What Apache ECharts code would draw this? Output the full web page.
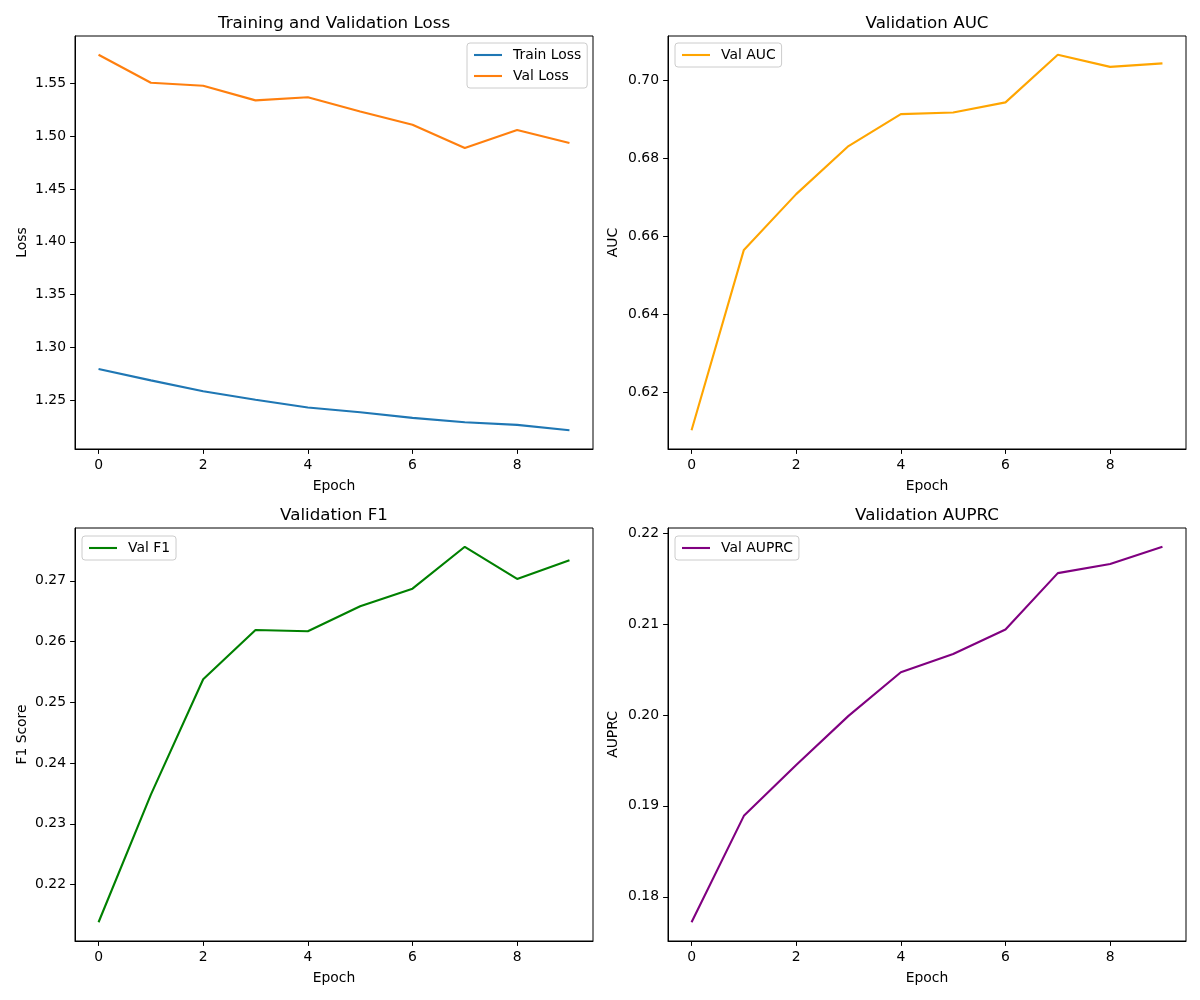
<!DOCTYPE html>
<html>
<head>
<meta charset="utf-8">
<script src="https://cdn.jsdelivr.net/npm/echarts@6/dist/echarts.min.js"></script>
<style>html,body{margin:0;padding:0;background:#fff;}#c{width:1200px;height:1000px;}</style>
</head>
<body>
<div id="c"></div>
<script>
// ---- data ----
var epochs = [0, 1, 2, 3, 4, 5, 6, 7, 8, 9];
var trainLoss = [1.2794, 1.2687, 1.2585, 1.2503, 1.2430, 1.2386, 1.2332, 1.2291, 1.2266, 1.2215];
var valLoss = [1.5771, 1.5506, 1.5478, 1.5339, 1.5368, 1.5234, 1.5109, 1.4888, 1.5058, 1.4935];
var valAUC = [0.6103, 0.6565, 0.6708, 0.6831, 0.6913, 0.6917, 0.6943, 0.7065, 0.7034, 0.7043];
var valF1 = [0.2138, 0.2348, 0.2538, 0.2619, 0.2617, 0.2658, 0.2687, 0.2756, 0.2703, 0.2734];
var valAUPRC = [0.1772, 0.1889, 0.1945, 0.1999, 0.2047, 0.2067, 0.2094, 0.2156, 0.2166, 0.2185];

var xTicks = [0, 2, 4, 6, 8];
var lossTicks = [1.25, 1.30, 1.35, 1.40, 1.45, 1.50, 1.55];
var aucTicks = [0.62, 0.64, 0.66, 0.68, 0.70];
var f1Ticks = [0.22, 0.23, 0.24, 0.25, 0.26, 0.27];
var auprcTicks = [0.18, 0.19, 0.20, 0.21, 0.22];

var titles = ['Training and Validation Loss', 'Validation AUC', 'Validation F1', 'Validation AUPRC'];
var yNames = ['Loss', 'AUC', 'F1 Score', 'AUPRC'];

function pairs(ys) { return epochs.map(function (e, i) { return [e, ys[i]]; }); }
function range(arrs) {
  var mn = Infinity, mx = -Infinity;
  arrs.forEach(function (a) { a.forEach(function (v) { if (v < mn) mn = v; if (v > mx) mx = v; }); });
  var m = (mx - mn) * 0.05;
  return [mn - m, mx + m];
}

var FONT = 'DejaVu Sans';
var grids = [
  { left: 75, top: 36, width: 518, height: 413 },
  { left: 668, top: 36, width: 518, height: 413 },
  { left: 75, top: 528, width: 518, height: 413 },
  { left: 668, top: 528, width: 518, height: 413 }
];
var yTickSets = [lossTicks, aucTicks, f1Ticks, auprcTicks];
var yRanges = [range([trainLoss, valLoss]), range([valAUC]), range([valF1]), range([valAUPRC])];
var xr = [epochs[0] - 0.45, epochs[epochs.length - 1] + 0.45];

var xAxes = [], yAxes = [], titleArr = [];
grids.forEach(function (g, i) {
  g.show = true; g.borderColor = '#000'; g.borderWidth = 1; g.backgroundColor = 'transparent';
  xAxes.push({
    type: 'value', gridIndex: i, min: xr[0], max: xr[1],
    name: 'Epoch', nameLocation: 'middle', nameGap: 30,
    nameTextStyle: { fontFamily: FONT, fontSize: 13.9, color: '#000' },
    axisLine: { show: true, onZero: false, lineStyle: { color: '#000', width: 1 } },
    axisTick: { show: true, inside: false, length: 4.9, lineStyle: { color: '#000' }, customValues: xTicks },
    axisLabel: { show: true, margin: 9, fontFamily: FONT, fontSize: 13.9, color: '#000', customValues: xTicks,
      formatter: function (v) { return String(Math.round(v)); } },
    splitLine: { show: false }
  });
  yAxes.push({
    type: 'value', gridIndex: i, min: yRanges[i][0], max: yRanges[i][1],
    name: yNames[i], nameLocation: 'middle', nameGap: i % 2 === 0 ? 46 : 48, nameRotate: 90,
    nameTextStyle: { fontFamily: FONT, fontSize: 13.9, color: '#000' },
    axisLine: { show: true, onZero: false, lineStyle: { color: '#000', width: 1 } },
    axisTick: { show: true, inside: false, length: 4.9, lineStyle: { color: '#000' }, customValues: yTickSets[i] },
    axisLabel: { show: true, margin: 9, fontFamily: FONT, fontSize: 13.9, color: '#000', customValues: yTickSets[i],
      formatter: function (v) { return v.toFixed(2); } },
    splitLine: { show: false }
  });
  titleArr.push({
    text: titles[i], left: g.left + g.width / 2, top: g.top - 21, textAlign: 'center', padding: 0,
    textStyle: { fontFamily: FONT, fontSize: 16.7, fontWeight: 'normal', color: '#000' }
  });
});

function lineSeries(name, data, idx, color) {
  return {
    name: name, type: 'line', xAxisIndex: idx, yAxisIndex: idx, data: pairs(data),
    showSymbol: false, symbol: 'none', smooth: false, animation: false,
    lineStyle: { color: color, width: 2.1 }, itemStyle: { color: color }
  };
}

var legendCommon = {
  orient: 'vertical', icon: 'rect', itemWidth: 28, itemHeight: 2.1, itemGap: 7,
  padding: [5, 6, 5, 7], backgroundColor: 'rgba(255,255,255,0.8)', borderColor: '#cccccc',
  borderWidth: 1, borderRadius: 3,
  textStyle: { fontFamily: FONT, fontSize: 13.9, color: '#000', padding: [0, 0, 0, 6] }
};
function legend(data, left, top) {
  var o = Object.assign({}, legendCommon);
  o.data = data; o.left = left; o.top = top;
  return o;
}

var option = {
  backgroundColor: '#fff',
  animation: false,
  title: titleArr,
  grid: grids,
  xAxis: xAxes,
  yAxis: yAxes,
  legend: [
    legend(['Train Loss', 'Val Loss'], 467, 43),
    legend(['Val AUC'], 675, 43),
    legend(['Val F1'], 82, 536),
    legend(['Val AUPRC'], 675, 536)
  ],
  series: [
    lineSeries('Train Loss', trainLoss, 0, '#1f77b4'),
    lineSeries('Val Loss', valLoss, 0, '#ff7f0e'),
    lineSeries('Val AUC', valAUC, 1, '#ffa500'),
    lineSeries('Val F1', valF1, 2, '#008000'),
    lineSeries('Val AUPRC', valAUPRC, 3, '#800080')
  ]
};
var chart = echarts.init(document.getElementById('c'), null, { renderer: 'canvas' });
chart.setOption(option);
</script>
</body>
</html>
